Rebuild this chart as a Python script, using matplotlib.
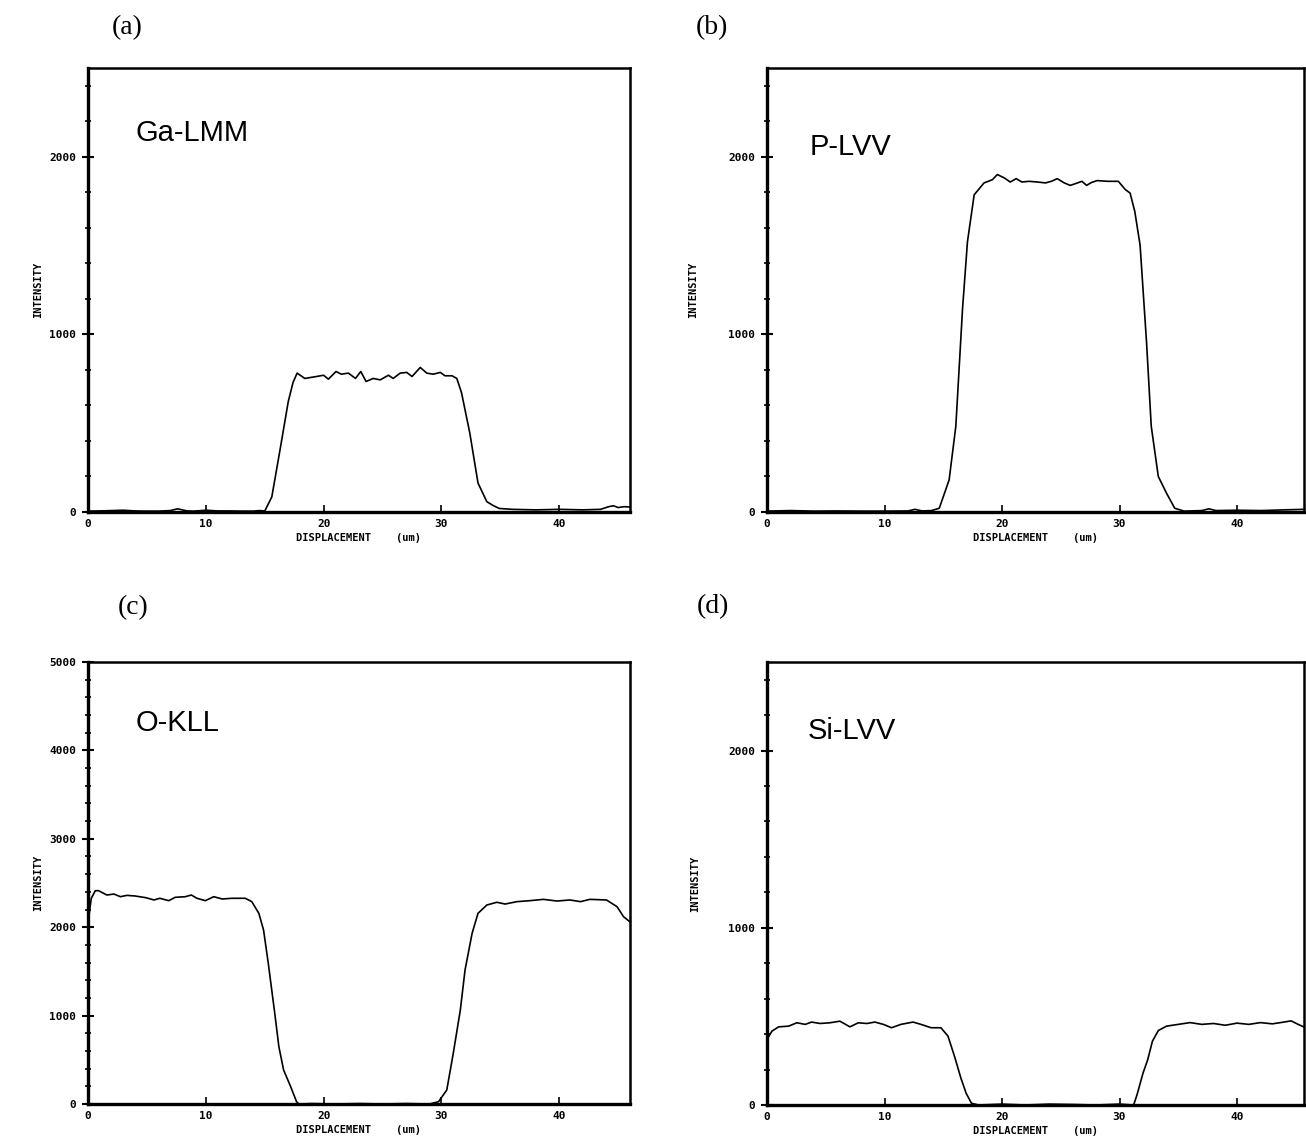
import matplotlib
matplotlib.use("Agg")
import matplotlib.pyplot as plt
from matplotlib.ticker import MultipleLocator

# Ga-LMM line scan (panel a)
ga_x = [0, 1, 2, 3, 4, 5, 6, 7, 7.6, 8, 8.4, 9, 10, 11, 12, 13, 14, 14.6, 15.0, 15.6,
        16.3, 17.0, 17.4, 17.75, 18.4, 19.4, 20.0, 20.4, 21.05, 21.5, 22.1, 22.7, 23.15,
        23.6, 24.2, 24.8, 25.5, 25.9, 26.5, 27.05, 27.5, 28.2, 28.75, 29.3, 29.9, 30.3,
        30.9, 31.3, 31.7, 32.4, 33.1, 33.85, 34.4, 34.9, 36, 38, 40, 42, 43.5, 44.2,
        44.6, 45.0, 45.5, 46]
ga_int = [5, 6, 8, 10, 6, 5, 5, 8, 18, 12, 6, 5, 10, 6, 6, 5, 5, 8, 5, 85,
          351, 623, 729, 782, 752, 763, 770, 748, 791, 776, 782, 752, 791,
          735, 752, 744, 770, 752, 782, 786, 763, 814, 782, 776, 786, 767,
          767, 752, 672, 446, 163, 58, 36, 20, 15, 12, 15, 12, 15, 30,
          35, 25, 30, 28]

# P-LVV line scan (panel b)
p_x = [0, 2, 4, 6, 8, 10, 12, 12.6, 13.2, 14, 14.66, 15.5, 16.07, 16.64, 17.06, 17.63,
       18.47, 19.18, 19.6, 20.2, 20.7, 21.2, 21.7, 22.3, 23.0, 23.7, 24.2, 24.7, 25.3,
       25.8, 26.3, 26.8, 27.2, 27.6, 28.1, 29.0, 29.9, 30.5, 30.9, 31.3, 31.75, 32.3,
       32.7, 33.3, 34.0, 34.7, 35.5, 37.0, 37.6, 38.2, 40, 42, 44, 45.7]
p_int = [5, 8, 5, 6, 5, 5, 6, 15, 6, 8, 21, 181, 483, 1144, 1522, 1786,
         1853, 1871, 1900, 1881, 1858, 1877, 1858, 1862, 1858, 1853, 1862, 1877, 1853,
         1839, 1850, 1862, 1839, 1855, 1866, 1862, 1862, 1815, 1796, 1692, 1503, 956,
         483, 200, 106, 21, 5, 8, 18, 8, 10, 8, 12, 15]

# O-KLL line scan (panel c)
o_x = [0, 0.28, 0.62, 0.9, 1.6, 2.2, 2.75, 3.3, 4.0, 4.9, 5.6, 6.1, 6.85, 7.4, 8.26,
       8.77, 9.25, 9.96, 10.67, 11.4, 12.2, 13.35, 13.9, 14.5, 14.9, 15.3, 15.85, 16.2,
       16.6, 17.2, 17.7, 17.9, 19, 21, 23, 25, 27, 29.0, 29.75, 30.45, 31.0, 31.6, 32.0,
       32.6, 33.1, 33.85, 34.7, 35.4, 36.4, 37.5, 38.65, 39.8, 40.9, 41.8, 42.6, 44.0,
       44.9, 45.45, 46]
o_int = [2050, 2327, 2413, 2413, 2364, 2375, 2345, 2360, 2353, 2334, 2308, 2327, 2300,
         2338, 2345, 2364, 2327, 2300, 2345, 2319, 2327, 2327, 2289, 2157, 1968, 1592,
         1026, 648, 385, 196, 26, 0, 5, 0, 5, 0, 5, 0, 26, 158, 573, 1063, 1516, 1931,
         2157, 2251, 2282, 2262, 2289, 2300, 2315, 2296, 2308, 2289, 2315, 2308, 2232,
         2119, 2060]

# Si-LVV line scan (panel d)
si_x = [0, 0.08, 0.42, 0.99, 1.84, 2.54, 3.25, 3.8, 4.5, 5.36, 6.2, 7.06, 7.77, 8.5,
        9.18, 9.9, 10.6, 11.4, 12.43, 13.1, 13.97, 14.8, 15.4, 15.96, 16.5, 16.95, 17.4,
        18, 20, 22, 24, 26, 28, 30, 31.2, 31.5, 32.0, 32.4, 32.8, 33.3, 34.0, 35, 36, 37,
        38, 39, 40, 41, 42, 43, 44, 44.6, 45.2, 45.7]
si_int = [360, 379, 417, 441, 445, 464, 455, 468, 460, 464, 473, 441, 464, 460,
          468, 455, 436, 455, 468, 455, 436, 436, 389, 274, 152, 66, 10,
          0, 5, 0, 5, 3, 0, 5, 0, 60, 180, 256, 360, 420, 445, 455, 465, 455,
          460, 450, 462, 455, 465, 458, 468, 475, 455, 440]

x_ticks = [0, 10, 20, 30, 40]
xlabel = "DISPLACEMENT    (um)"
ylabel = "INTENSITY"

W, H = 1306, 1142
fig = plt.figure(figsize=(W / 100, H / 100), dpi=100)


def px_axes(left, top, right, bottom):
    return fig.add_axes([left / W, 1 - bottom / H, (right - left) / W, (bottom - top) / H])


panels = [
    # (letter, letter pos, name, name pos, x, y, box, xmax, ymax, ymajor, ylabel x)
    ("(a)", (127, 28), "Ga-LMM", (0.087, 0.854), ga_x, ga_int, (88, 68, 630, 512), 46, 2500, 1000, -0.082),
    ("(b)", (712, 28), "P-LVV", (0.080, 0.822), p_x, p_int, (767, 68, 1304, 512), 45.7, 2500, 1000, -0.128),
    ("(c)", (133, 608), "O-KLL", (0.087, 0.862), o_x, o_int, (88, 662, 630, 1104), 46, 5000, 1000, -0.082),
    ("(d)", (713, 607), "Si-LVV", (0.076, 0.844), si_x, si_int, (767, 662, 1304, 1105), 45.7, 2500, 1000, -0.125),
]

for letter, lpos, name, npos, xs, ys, box, xmax, ymax, ymaj, ylx in panels:
    ax = px_axes(*box)
    ax.plot(xs, ys, color="black", lw=1.2)
    ax.set_xlim(0, xmax)
    ax.set_ylim(0, ymax)

    ax.set_xticks(x_ticks)
    ax.yaxis.set_major_locator(MultipleLocator(ymaj))
    ax.yaxis.set_minor_locator(MultipleLocator(200))
    ax.tick_params(axis="x", direction="in", length=5, width=1.2, pad=5)
    ax.tick_params(axis="y", which="major", direction="inout", length=9, width=1.5, pad=4)
    ax.tick_params(axis="y", which="minor", direction="inout", length=4, width=1.2)
    for lab in ax.get_xticklabels() + ax.get_yticklabels():
        lab.set_fontfamily("DejaVu Sans Mono")
        lab.set_fontweight("bold")
        lab.set_fontsize(8)

    for side in ["left", "bottom"]:
        ax.spines[side].set_linewidth(2.4)
    for side in ["top", "right"]:
        ax.spines[side].set_linewidth(1.8)

    ax.set_xlabel(xlabel, fontfamily="DejaVu Sans Mono", fontweight="bold", fontsize=7.5, labelpad=3)
    ax.set_ylabel(ylabel, fontfamily="DejaVu Sans Mono", fontweight="bold", fontsize=7.5)
    ax.yaxis.set_label_coords(ylx, 0.5)

    ax.text(npos[0], npos[1], name, transform=ax.transAxes, ha="left", va="center",
            fontsize=21, fontfamily="Liberation Sans")
    fig.text(lpos[0] / W, 1 - lpos[1] / H, letter, ha="center", va="center",
             fontsize=20, fontfamily="Liberation Serif")

fig.savefig("out.png", dpi=100, facecolor="white")
